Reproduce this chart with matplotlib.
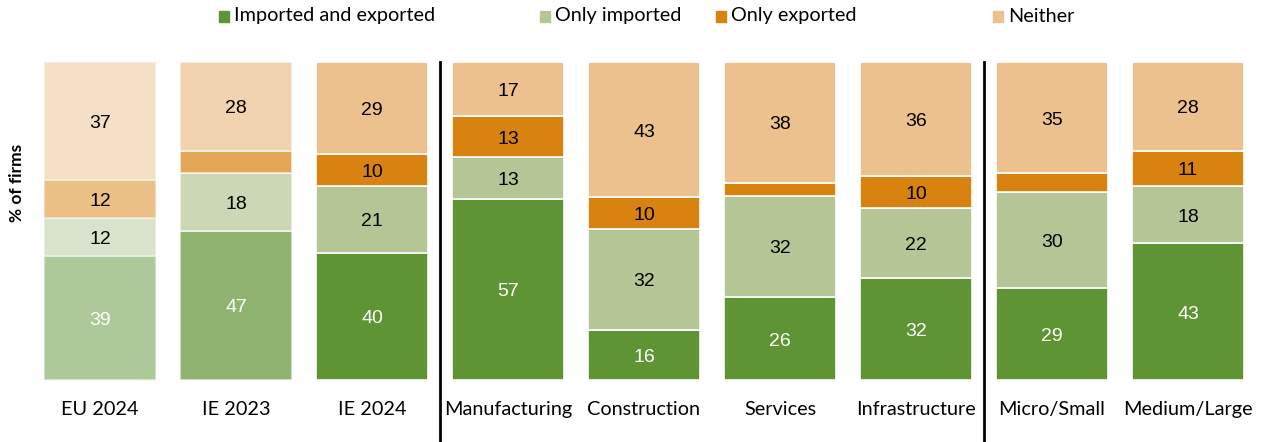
import matplotlib
matplotlib.use("Agg")
import matplotlib.pyplot as plt
from matplotlib.lines import Line2D
from matplotlib.patches import Rectangle
import matplotlib.transforms as mtransforms
import numpy as np

categories = ["EU 2024", "IE 2023", "IE 2024", "Manufacturing", "Construction",
              "Services", "Infrastructure", "Micro/Small", "Medium/Large"]
series_names = ["Imported and exported", "Only imported", "Only exported", "Neither"]
imported_and_exported = [39, 47, 40, 57, 16, 26, 32, 29, 43]
only_imported = [12, 18, 21, 13, 32, 32, 22, 30, 18]
only_exported = [12, 7, 10, 13, 10, 4, 10, 6, 11]
neither = [37, 28, 29, 17, 43, 38, 36, 35, 28]
show_label = [
    [True] * 9,
    [True] * 9,
    [True, False, True, True, True, False, True, False, True],
    [True] * 9,
]

series_colors = ["#5E9434", "#B5C696", "#D8820F", "#ECC18D"]
bar_alpha = [0.5, 0.7, 1, 1, 1, 1, 1, 1, 1]
text_colors = ["white", "black", "black", "black"]

W, H = 1263, 442
fig = plt.figure(figsize=(W / 100, H / 100), dpi=100)
ax = fig.add_axes([44 / W, (H - 380) / H, 1200 / W, 318 / H])

x = np.arange(len(categories))
bw = 112 / 136
data = np.array([imported_and_exported, only_imported, only_exported, neither], dtype=float)
totals = data.sum(axis=0)
shares = data / totals * 100  # stacked to 100 %
bottom = np.zeros(len(categories))
for s in range(len(series_names)):
    for i in range(len(categories)):
        h = shares[s, i]
        ax.bar(x[i], h, bw, bottom=bottom[i], color=series_colors[s],
               alpha=bar_alpha[i], edgecolor="white", linewidth=1.2)
        if show_label[s][i]:
            ax.annotate(f"{int(data[s, i])}", (x[i], bottom[i] + h / 2),
                        xytext=(0, -5), textcoords="offset points",
                        ha="center", va="baseline", fontsize=14,
                        family="Liberation Sans", color=text_colors[s])
    bottom += shares[s]

ax.set_xlim(-bw / 2, len(categories) - 1 + bw / 2)
ax.set_ylim(0, 100)
ax.set_yticks([])
ax.set_xticks(x)
ax.set_xticklabels(categories, fontsize=14.3, family="Lato")
ax.tick_params(axis="x", length=0, pad=15)
for sp in ax.spines.values():
    sp.set_visible(False)

# group separators
trans = mtransforms.blended_transform_factory(ax.transData, fig.transFigure)
for xs in [2.5, 6.5]:
    fig.add_artist(Line2D([xs, xs], [1 - 62 / H, 0], transform=trans,
                          color="black", linewidth=2))

# y label
fig.text(17 / W, 1 - 183 / H, "% of firms", rotation=90, ha="center", va="center",
         fontsize=12.5, fontweight="bold", family="Lato")

# legend
leg_x = [219, 540, 716, 993]
for px, name, c in zip(leg_x, series_names, series_colors):
    fig.add_artist(Rectangle((px / W, 1 - 22 / H), 10 / W, 11 / H,
                             transform=fig.transFigure, color=c))
    fig.text((px + 15) / W, 1 - 16 / H, name, ha="left", va="center",
             fontsize=14.3, family="Lato")

fig.savefig("out.png", dpi=100)
